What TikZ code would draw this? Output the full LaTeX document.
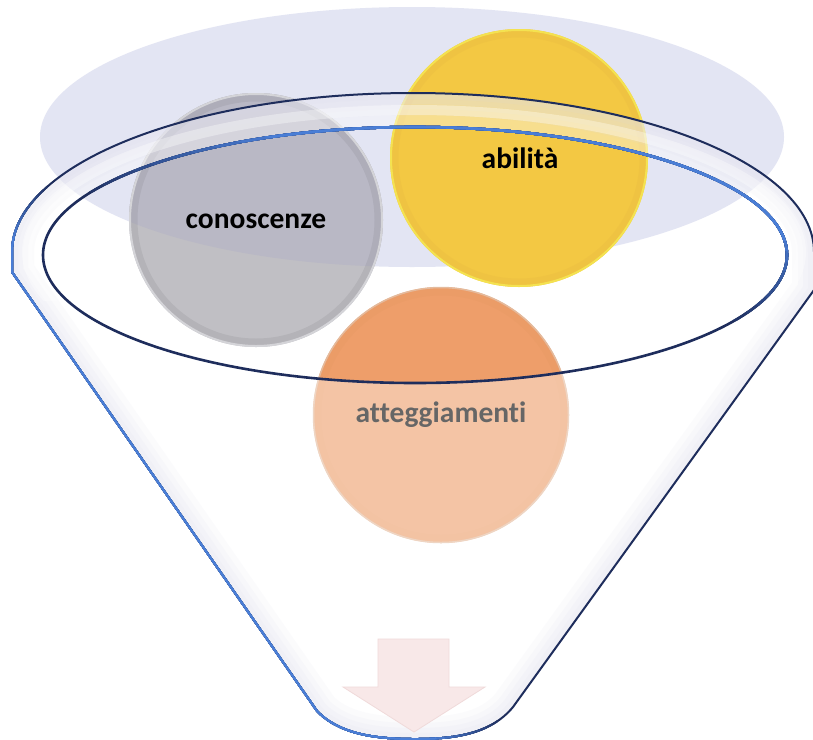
\documentclass[tikz,border=0pt]{standalone}
\usepackage{fontspec}
\setmainfont{Carlito}[Ligatures=NoCommon]
\definecolor{lav}{HTML}{E3E5F3}
\definecolor{gryfill}{HTML}{C0BFC4}
\definecolor{grytint}{HTML}{B9B8C5}
\definecolor{gryedge}{HTML}{D4D4D8}
\definecolor{yelfill}{HTML}{F3C843}
\definecolor{yeledge}{HTML}{F4E250}
\definecolor{orgfill}{HTML}{EE9E6A}
\definecolor{orgedge}{HTML}{E4BA9C}
\definecolor{rimblue}{HTML}{4A7ED6}
\definecolor{rimnavy}{HTML}{1E2D5C}
\definecolor{glow}{HTML}{D8D8EA}
\definecolor{arrowpink}{HTML}{F8E8E8}
\definecolor{arrowedge}{HTML}{F0DADA}
\begin{document}
\begin{tikzpicture}[x=1pt,y=-1pt,
  lbl/.style={font=\fontsize{29.5}{31}\selectfont\bfseries, text=black, inner sep=0pt},
  ballshade/.style={line width=7, opacity=0.06}]
\useasboundingbox (0,0) rectangle (813,739);
\fill[white] (0,0) rectangle (813,739);

% shapes used more than once
\def\lavpath{(412,137) ellipse [x radius=372, y radius=130]}
\def\rimpath{(415,255) ellipse [x radius=372, y radius=128]}
\def\funnelpath{(12,272) -- (12,252) arc[start angle=180, end angle=360, x radius=401, y radius=159]
  -- (814,290) -- (513,707) .. controls (490,735) and (452,739) .. (415,739)
  .. controls (378,739) and (340,735) .. (317,711) -- cycle}

% lavender backdrop
\fill[lav] \lavpath;

% grey ball
\fill[gryfill] (256,220) circle[radius=127];
\begin{scope}
  \clip \lavpath;
  \fill[grytint] (256,220) circle[radius=127];
\end{scope}
\draw[black, ballshade] (256,220) circle[radius=122];
\draw[gryedge, line width=2] (256,220) circle[radius=126];
\node[lbl] (conoscenze) at (256,221) {conoscenze};

% yellow ball
\fill[yelfill] (519,158) circle[radius=129];
\draw[brown, ballshade] (519,158) circle[radius=124];
\draw[yeledge, line width=2] (519,158) circle[radius=128];
\node[lbl] (abilita) at (520,158) {abilità};

% orange ball
\fill[orgfill] (441,415) circle[radius=128];
\draw[brown, ballshade] (441,415) circle[radius=123];
\draw[orgedge, line width=1.5] (441,415) circle[radius=127.5];
\node[lbl] (atteggiamenti) at (441,415) {atteggiamenti};

% translucent funnel body and rim band
\fill[white, fill opacity=0.4, even odd rule] \funnelpath \rimpath;
\begin{scope}
  \clip \funnelpath;
  \foreach \w in {44,32,22,12}{
    \draw[glow, line width=\w, opacity=0.1] \funnelpath;
  }
\end{scope}
\begin{scope}
  \clip (0,0) rectangle (813,300);
  \draw[white, line width=10, opacity=0.35] (414,252) ellipse [x radius=387, y radius=142];
\end{scope}

% arrow at the spout
\filldraw[fill=arrowpink, draw=arrowedge, line width=0.8]
  (378,639) -- (449,639) -- (449,687) -- (485,687) -- (414,732) -- (343,687) -- (378,687) -- cycle;

% funnel outline: blue on the lower left, navy elsewhere
\draw[rimnavy, line width=2] \funnelpath;
\foreach \k in {1,...,10}{
  \pgfmathsetmacro\dd{-50+10*\k}
  \pgfmathtruncatemacro\pp{10*\k}
  \begin{scope}
    \clip (-100,{51.25+\dd}) -- (900,{1238.75+\dd}) -- (-100,{1238.75+\dd}) -- cycle;
    \draw[rimblue!\pp!rimnavy, line width=2] \funnelpath;
  \end{scope}
}

% rim ellipse: blue along the top, navy along the bottom
\draw[rimnavy, line width=2.6] \rimpath;
\foreach \k in {1,...,10}{
  \pgfmathsetmacro\dd{50-10*\k}
  \pgfmathtruncatemacro\pp{10*\k}
  \begin{scope}
    \clip (-100,{114+\dd}) -- (900,{314+\dd}) -- (900,-100) -- (-100,-100) -- cycle;
    \draw[rimblue!\pp!rimnavy, line width=2.6] \rimpath;
  \end{scope}
}
\end{tikzpicture}
\end{document}
